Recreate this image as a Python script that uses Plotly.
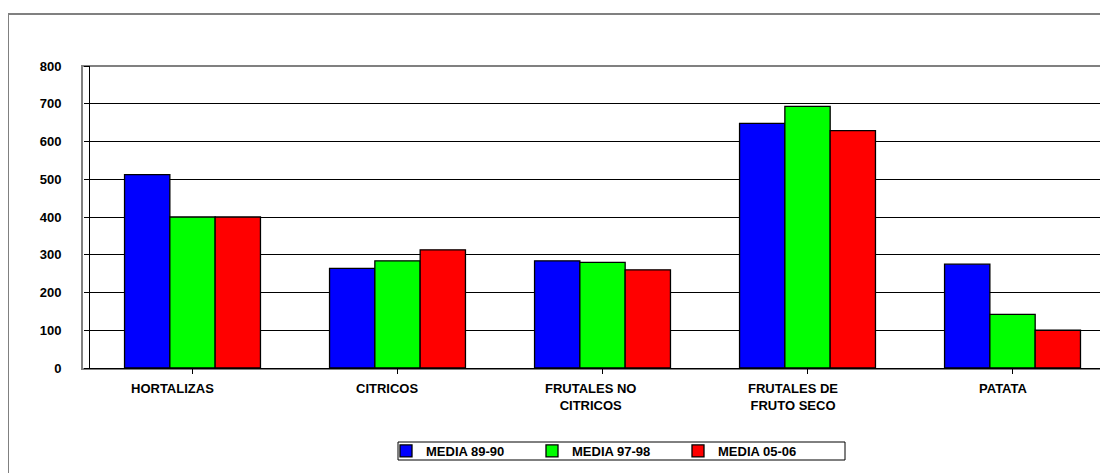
import plotly.graph_objects as go

categories = ["HORTALIZAS", "CITRICOS", "FRUTALES NO<br>CITRICOS", "FRUTALES DE<br>FRUTO SECO", "PATATA"]
series_names = ["MEDIA 89-90", "MEDIA 97-98", "MEDIA 05-06"]
media_89_90 = [512, 264, 284, 648, 275]
media_97_98 = [400, 284, 280, 693, 142]
media_05_06 = [400, 313, 260, 629, 100]
y_ticks = [0, 100, 200, 300, 400, 500, 600, 700, 800]

# style: horizontal nudge of each category label (px)
label_shift = [-20, -11, -12, -15, -9]

colors = ["#0000FF", "#00FF00", "#FF0000"]
FONT = "Arial, Liberation Sans, sans-serif"

OFF = 8  # page body margin
W, H = 1108 - OFF, 473 - OFF
L, R, T, B = 90 - OFF, 2, 66 - OFF, 105
pw, ph = W - L - R, H - T - B

def px_x(x):
    return (x - OFF - L) / pw

def px_y(y):
    return (H - B - (y - OFF)) / ph

fig = go.Figure()
for name, vals, col in zip(series_names, [media_89_90, media_97_98, media_05_06], colors):
    fig.add_trace(go.Bar(
        x=list(range(len(categories))), y=vals, name=name,
        marker=dict(color=col, line=dict(color="#000000", width=1.3)),
    ))

shapes = [
    dict(type="rect", xref="paper", yref="paper", x0=px_x(8), x1=px_x(1120), y0=px_y(14), y1=px_y(490),
         line=dict(color="#808080", width=2), layer="below"),
    dict(type="rect", xref="paper", yref="paper", x0=px_x(82), x1=px_x(1106), y0=px_y(369), y1=px_y(66),
         line=dict(color="#808080", width=2), layer="below"),
    dict(type="rect", xref="paper", yref="paper", x0=px_x(398), x1=px_x(845), y0=px_y(460), y1=px_y(442),
         line=dict(color="#000000", width=1), layer="above"),
]

annotations = []
for i, c in enumerate(categories):
    annotations.append(dict(
        x=i, xref="x", y=px_y(379), yref="paper", yanchor="top", xanchor="center",
        text=c, showarrow=False, xshift=label_shift[i],
        font=dict(family=FONT, size=13, color="#000000", weight="bold"),
    ))

fig.update_layout(
    width=W, height=H,
    margin=dict(l=L, r=R, t=T, b=B, autoexpand=False),
    paper_bgcolor="#FFFFFF", plot_bgcolor="#FFFFFF",
    barmode="group", bargap=0.337, bargroupgap=0,
    font=dict(family=FONT, size=13, color="#000000"),
    showlegend=True,
    legend=dict(
        orientation="h", x=px_x(386), xanchor="left", y=px_y(451), yanchor="middle",
        font=dict(family=FONT, size=13, color="#000000", weight="bold"),
        bgcolor="rgba(0,0,0,0)", borderwidth=0, entrywidth=101, traceorder="normal",
    ),
    xaxis=dict(
        range=[-0.5, 4.456], showticklabels=False, ticks="outside", ticklen=5, tickcolor="#000000",
        tickmode="array", tickvals=list(range(len(categories))), tickson="boundaries",
        showline=True, linecolor="#000000", linewidth=1, showgrid=False, zeroline=False,
    ),
    yaxis=dict(
        range=[0, 800], tickvals=y_ticks, ticks="outside", ticklen=5, tickcolor="#000000",
        tickfont=dict(family=FONT, size=13, color="#000000", weight="bold"),
        ticklabelstandoff=20,
        showline=True, linecolor="#000000", linewidth=1,
        showgrid=True, gridcolor="#000000", gridwidth=1, zeroline=False,
    ),
    shapes=shapes, annotations=annotations,
)

fig.write_html("out.html")
